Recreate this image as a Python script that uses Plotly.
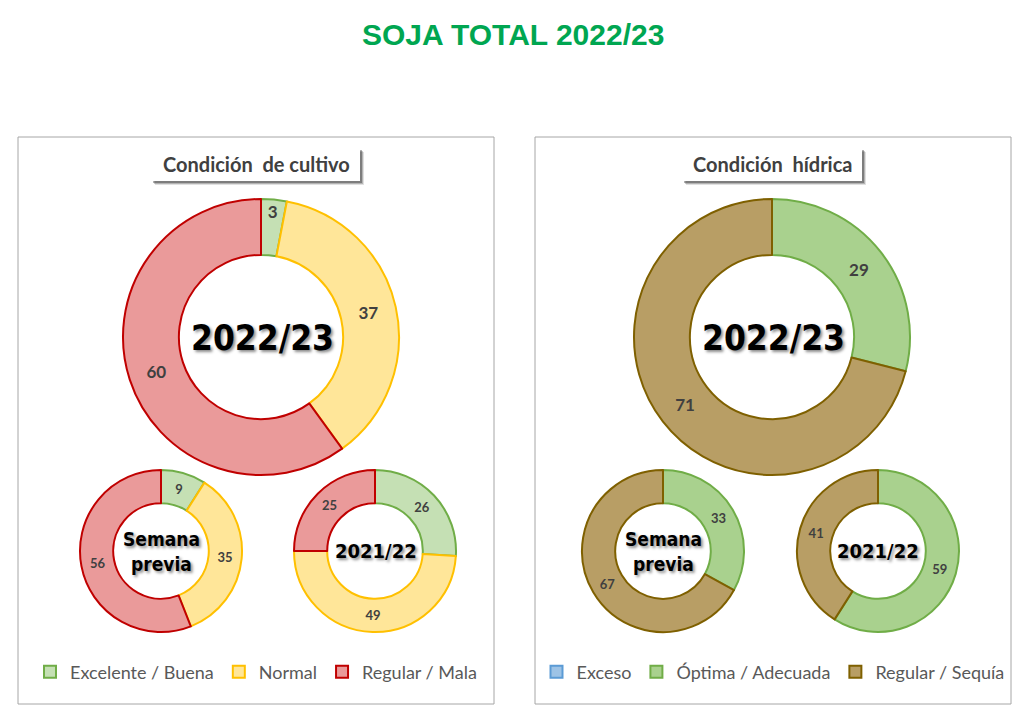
import plotly.graph_objects as go

# the page adds an 8px body margin, so the figure starts at (8, 8)
OFF = 8
W, H = 1023 - OFF, 718 - OFF

cond_labels = ["Excelente / Buena", "Normal", "Regular / Mala"]
cond_actual = [3, 37, 60]
cond_previa = [9, 35, 56]
cond_anterior = [26, 49, 25]

hid_labels = ["Exceso", "Óptima / Adecuada", "Regular / Sequía"]
hid_actual = [0, 29, 71]
hid_previa = [0, 33, 67]
hid_anterior = [0, 59, 41]

cond_fill = ["#C5E0B4", "#FFE699", "#EA9A9A"]
cond_line = ["#70AD47", "#FFC000", "#C00000"]
hid_fill = ["#9DC3E6", "#A9D18E", "#B89E65"]
hid_line = ["#5B9BD5", "#70AD47", "#7F6000"]


def px(x):
    return (x - OFF) / W


def py(y):
    return 1 - (y - OFF) / H


def donut(labels, values, cx, cy, r, fills, lines, legend, size, hole, show):
    return go.Pie(
        labels=labels, values=values, sort=False, direction="clockwise", rotation=0,
        hole=hole, domain=dict(x=[px(cx - r), px(cx + r)], y=[py(cy + r), py(cy - r)]),
        marker=dict(colors=fills, line=dict(color=lines, width=2)),
        text=[str(v) if v else "" for v in values], textinfo="text",
        textposition="inside", insidetextorientation="horizontal",
        textfont=dict(family="Lato", size=size, color="#404040", weight="bold"),
        legend=legend, showlegend=show, hoverinfo="label+value",
    )


fig = go.Figure()
fig.add_trace(donut(cond_labels, cond_actual, 261, 337, 138, cond_fill, cond_line, "legend", 17, 0.595, True))
fig.add_trace(donut(cond_labels, cond_previa, 161, 551, 81, cond_fill, cond_line, "legend", 13, 0.59, False))
fig.add_trace(donut(cond_labels, cond_anterior, 375, 551, 81, cond_fill, cond_line, "legend", 13, 0.59, False))
fig.add_trace(donut(hid_labels, hid_actual, 772, 337, 138, hid_fill, hid_line, "legend2", 17, 0.595, True))
fig.add_trace(donut(hid_labels, hid_previa, 663, 551, 81, hid_fill, hid_line, "legend2", 13, 0.59, False))
fig.add_trace(donut(hid_labels, hid_anterior, 878, 551, 81, hid_fill, hid_line, "legend2", 13, 0.59, False))

shapes = []
for x0, x1 in [(18, 494), (535, 1011)]:
    shapes.append(dict(type="rect", xref="paper", yref="paper", x0=px(x0), x1=px(x1),
                       y0=py(704), y1=py(137), line=dict(color="#A6A6A6", width=1), layer="below"))
for x0, x1 in [(152, 360), (683, 862)]:
    for d, alpha in [(4, 0.12), (3, 0.2), (2, 0.3)]:
        shapes.append(dict(type="rect", xref="paper", yref="paper", x0=px(x0 + d - 1), x1=px(x1 + d),
                           y0=py(181 + d), y1=py(148 + d), line=dict(width=0),
                           fillcolor="rgba(0,0,0,%s)" % alpha, layer="below"))
    shapes.append(dict(type="rect", xref="paper", yref="paper", x0=px(x0), x1=px(x1),
                       y0=py(181), y1=py(148), line=dict(width=0), fillcolor="white", layer="below"))

shadow = "2px 2px 3px rgba(0,0,0,0.45)"
center_font = "DejaVu Sans Condensed"
annotations = [
    dict(text="<b>SOJA TOTAL 2022/23</b>", x=px(513), y=py(35),
         font=dict(family="Liberation Sans", size=30, color="#00A651")),
    dict(text="<b>Condición  de cultivo</b>", x=px(256), y=py(164),
         font=dict(family="Lato", size=20, color="#404040")),
    dict(text="<b>Condición  hídrica</b>", x=px(772), y=py(164),
         font=dict(family="Lato", size=20, color="#404040")),
]
for cx, cy, label, size in [(262, 338, "2022/23", 35), (773, 338, "2022/23", 35),
                            (161, 551, "Semana<br>previa", 19), (663, 551, "Semana<br>previa", 19),
                            (376, 551, "2021/22", 20), (878, 551, "2021/22", 20)]:
    annotations.append(dict(text="<b>" + label + "</b>", x=px(cx), y=py(cy),
                            font=dict(family=center_font, size=size, color="black", shadow=shadow)))
for a in annotations:
    a.update(xref="paper", yref="paper", showarrow=False, xanchor="center", yanchor="middle")

legend_style = dict(orientation="h", xanchor="center", yanchor="middle", y=py(672),
                    font=dict(family="Lato", size=18, color="#595959"), bgcolor="rgba(0,0,0,0)",
                    itemwidth=30, itemclick=False, itemdoubleclick=False)

fig.update_layout(
    width=W, height=H, margin=dict(l=0, r=0, t=0, b=0),
    paper_bgcolor="white", plot_bgcolor="white",
    shapes=shapes, annotations=annotations,
    legend=dict(x=px(256), **legend_style),
    legend2=dict(x=px(773), **legend_style),
)

fig.write_html("out.html")
